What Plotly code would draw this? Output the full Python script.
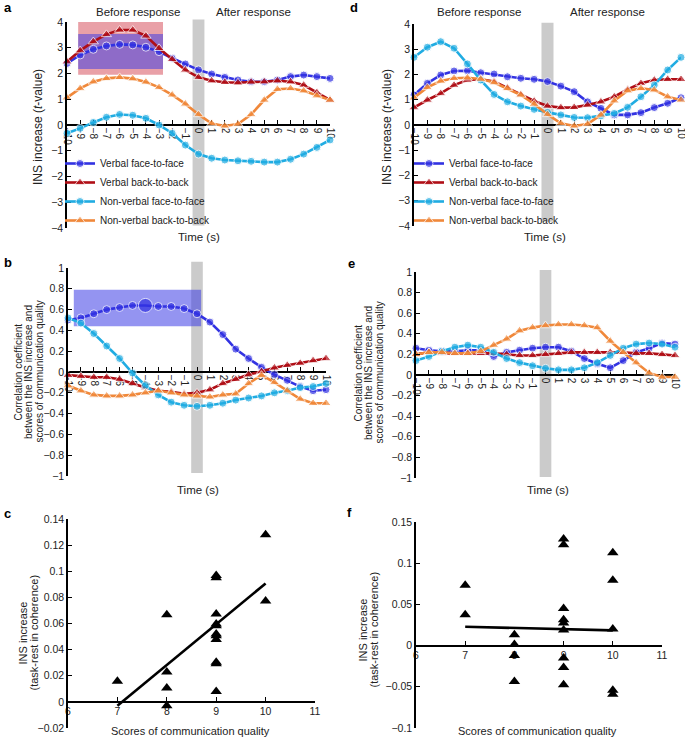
import plotly.graph_objects as go

W, H = 685, 739
FONT = "Liberation Sans, Arial, Helvetica, sans-serif"

time = list(range(-10, 11))
series_names = ["Verbal face-to-face", "Verbal back-to-back",
                "Non-verbal face-to-face", "Non-verbal back-to-back"]

# Panel a: INS increase (t-value)
a_verbal_f2f = [2.39, 2.72, 2.94, 3.07, 3.13, 3.11, 3.02, 2.85, 2.59, 2.37, 2.14,
                1.98, 1.85, 1.75, 1.68, 1.68, 1.75, 1.88, 1.94, 1.88, 1.81]
a_verbal_b2b = [2.46, 2.89, 3.24, 3.52, 3.69, 3.69, 3.46, 2.98, 2.55, 2.14, 1.85,
                1.72, 1.66, 1.64, 1.67, 1.68, 1.72, 1.68, 1.55, 1.26, 0.97]
a_nonverbal_f2f = [-0.32, -0.13, 0.10, 0.30, 0.41, 0.38, 0.26, 0.0, -0.32, -0.78, -1.13,
                   -1.29, -1.36, -1.39, -1.41, -1.44, -1.44, -1.33, -1.13, -0.87, -0.58]
a_nonverbal_b2b = [1.06, 1.42, 1.68, 1.81, 1.85, 1.80, 1.67, 1.46, 1.17, 0.82, 0.41,
                   0.06, -0.04, 0.04, 0.41, 0.97, 1.39, 1.42, 1.33, 1.14, 0.97]

# Panel d
d_verbal_f2f = [1.19, 1.65, 1.98, 2.14, 2.15, 2.07, 2.02, 1.91, 1.85, 1.81, 1.72,
                1.54, 1.32, 0.92, 0.66, 0.40, 0.40, 0.49, 0.69, 0.86, 1.08]
d_verbal_b2b = [0.69, 0.99, 1.25, 1.58, 1.78, 1.81, 1.72, 1.48, 1.21, 0.95, 0.75,
                0.69, 0.70, 0.79, 0.92, 1.12, 1.41, 1.65, 1.78, 1.81, 1.81]
d_nonverbal_f2f = [2.68, 3.08, 3.30, 3.04, 2.42, 1.78, 1.21, 0.92, 0.75, 0.62, 0.50,
                   0.40, 0.30, 0.29, 0.36, 0.46, 0.70, 1.12, 1.58, 2.18, 2.68]
d_nonverbal_b2b = [1.08, 1.49, 1.74, 1.85, 1.87, 1.82, 1.68, 1.45, 1.19, 0.83, 0.42,
                   0.07, -0.04, 0.04, 0.40, 0.96, 1.36, 1.45, 1.39, 1.12, 0.99]

# Panel b: correlation coefficients
b_verbal_f2f = [0.50, 0.52, 0.56, 0.60, 0.62, 0.64, 0.64, 0.63, 0.63, 0.61, 0.56,
                0.48, 0.36, 0.22, 0.13, 0.045, -0.025, -0.08, -0.14, -0.18, -0.17]
b_verbal_b2b = [-0.03, -0.04, -0.05, -0.05, -0.07, -0.11, -0.15, -0.18, -0.19, -0.21, -0.20,
                -0.17, -0.11, -0.07, -0.025, 0.005, 0.04, 0.065, 0.085, 0.11, 0.13]
b_nonverbal_f2f = [0.52, 0.47, 0.37, 0.25, 0.13, -0.01, -0.13, -0.22, -0.29, -0.32, -0.33,
                   -0.32, -0.30, -0.27, -0.25, -0.23, -0.20, -0.18, -0.15, -0.14, -0.11]
b_nonverbal_b2b = [-0.13, -0.18, -0.22, -0.23, -0.23, -0.22, -0.20, -0.18, -0.20, -0.22, -0.23,
                   -0.24, -0.22, -0.21, -0.11, -0.03, -0.10, -0.18, -0.26, -0.30, -0.30]
b_peak_time = -4

# Panel e
e_verbal_f2f = [0.26, 0.24, 0.23, 0.23, 0.24, 0.24, 0.18, 0.22, 0.24, 0.26, 0.27,
                0.27, 0.23, 0.16, 0.11, 0.07, 0.14, 0.22, 0.26, 0.31, 0.30]
e_verbal_b2b = [0.20, 0.22, 0.21, 0.21, 0.21, 0.21, 0.21, 0.20, 0.19, 0.19, 0.20,
                0.21, 0.22, 0.22, 0.22, 0.22, 0.22, 0.21, 0.21, 0.20, 0.19]
e_nonverbal_f2f = [0.14, 0.18, 0.23, 0.27, 0.29, 0.27, 0.22, 0.16, 0.12, 0.09, 0.065,
                   0.05, 0.05, 0.07, 0.12, 0.19, 0.26, 0.30, 0.31, 0.30, 0.27]
e_nonverbal_b2b = [0.20, 0.22, 0.22, 0.21, 0.21, 0.23, 0.29, 0.35, 0.43, 0.46, 0.48,
                   0.49, 0.49, 0.48, 0.46, 0.33, 0.22, 0.12, 0.02, -0.02, -0.02]

# Panel c scatter
c_scores = [7, 8, 8, 8, 8, 9, 9, 9, 9, 9, 9, 9, 9, 9, 9, 9, 10, 10]
c_ins = [0.0157, 0.0667, 0.0228, 0.0106, -0.003, 0.0968, 0.095, 0.0672, 0.0596, 0.0583,
         0.052, 0.0507, 0.0477, 0.0304, 0.0292, 0.008, 0.128, 0.0773]
c_fit_x = [7, 10]
c_fit_y = [-0.003, 0.0907]

# Panel f scatter
f_scores = [7, 7, 8, 8, 8, 8, 9, 9, 9, 9, 9, 9, 9, 9, 9, 10, 10, 10, 10, 10]
f_ins = [0.0732, 0.0374, 0.0133, 0.0012, -0.012, -0.0435, 0.1295, 0.1223, 0.045, 0.0314,
         0.0274, 0.0189, -0.0149, -0.0265, -0.0475, 0.1127, 0.0793, 0.0201, -0.0543, -0.0591]
f_fit_x = [7, 10]
f_fit_y = [0.0229, 0.0185]

BLUE = "rgb(50,50,226)"
RED = "rgb(176,14,22)"
CYAN = "rgb(32,172,226)"
ORANGE = "rgb(240,136,58)"
colors = [BLUE, RED, CYAN, ORANGE]
symbols = ["circle", "triangle-up", "circle", "triangle-up"]


def dx(l, r):
    return [l / W, r / W]


def dy(t, b):
    return [1 - b / H, 1 - t / H]


def val_to_paper(dom, rng, v):
    return dom[0] + (v - rng[0]) / (rng[1] - rng[0]) * (dom[1] - dom[0])


panels = {
    "a": dict(ax="", xdom=dx(67, 330), ydom=dy(22, 228), xr=[-10, 10], yr=[-4, 4], ydt=1, xdt=1),
    "b": dict(ax="2", xdom=dx(68, 326), ydom=dy(268, 476), xr=[-10, 10], yr=[-1, 1], ydt=0.2, xdt=1),
    "c": dict(ax="3", xdom=dx(68, 315), ydom=dy(519, 728), xr=[6, 11], yr=[-0.02, 0.14], ydt=0.02, xdt=1),
    "d": dict(ax="4", xdom=dx(414, 681), ydom=dy(24, 226), xr=[-10, 10], yr=[-4, 4], ydt=1, xdt=1),
    "e": dict(ax="5", xdom=dx(416, 675), ydom=dy(272, 478), xr=[-10, 10], yr=[-1, 1], ydt=0.2, xdt=1),
    "f": dict(ax="6", xdom=dx(416, 662), ydom=dy(522, 728), xr=[6, 11], yr=[-0.1, 0.15], ydt=0.05, xdt=1),
}

title_t = ["INS increase (<i>t</i>-value)"]
title_corr = ["Correlation coefficient", "between the INS increase and",
              "scores of communication quality"]
title_ins = ["INS increase", "(task-rest in coherence)"]
# (lines, x centres of each line in px, y centre in px, font size)
ytitle_spec = {
    "a": (title_t, [38], 127, 12),
    "d": (title_t, [387], 127, 12),
    "b": (title_corr, [17.5, 28, 38.5], 372, 10),
    "e": (title_corr, [357.5, 368, 378.5], 373, 10),
    "c": (title_ins, [22.5, 33.5], 633, 11),
    "f": (title_ins, [362.5, 373.5], 630, 11),
}

fig = go.Figure()

time_data = {
    "a": [a_verbal_f2f, a_verbal_b2b, a_nonverbal_f2f, a_nonverbal_b2b],
    "d": [d_verbal_f2f, d_verbal_b2b, d_nonverbal_f2f, d_nonverbal_b2b],
    "b": [b_verbal_f2f, b_verbal_b2b, b_nonverbal_f2f, b_nonverbal_b2b],
    "e": [e_verbal_f2f, e_verbal_b2b, e_nonverbal_f2f, e_nonverbal_b2b],
}
legend_of = {"a": "legend", "d": "legend2"}

for key in ["a", "b", "d", "e"]:
    p = panels[key]
    for i, vals in enumerate(time_data[key]):
        size = 8 if symbols[i] == "circle" else 9
        sizes = [size] * len(time)
        if key == "b" and i == 0:
            sizes = [14 if t == b_peak_time else size for t in time]
        fig.add_trace(go.Scatter(
            x=time, y=vals, mode="lines+markers", name=series_names[i],
            line=dict(color=colors[i], width=2.6),
            marker=dict(color=colors[i], symbol=symbols[i], size=sizes),
            xaxis="x" + p["ax"], yaxis="y" + p["ax"], cliponaxis=False,
            showlegend=key in legend_of, legend=legend_of.get(key, "legend"),
        ))

for key, xs, ys, fx, fy in [("c", c_scores, c_ins, c_fit_x, c_fit_y),
                            ("f", f_scores, f_ins, f_fit_x, f_fit_y)]:
    p = panels[key]
    fig.add_trace(go.Scatter(x=fx, y=fy, mode="lines", line=dict(color="black", width=2.6),
                             xaxis="x" + p["ax"], yaxis="y" + p["ax"], showlegend=False, cliponaxis=False))
    fig.add_trace(go.Scatter(x=xs, y=ys, mode="markers",
                             marker=dict(color="black", symbol="triangle-up", size=10),
                             xaxis="x" + p["ax"], yaxis="y" + p["ax"], showlegend=False, cliponaxis=False))

layout = dict(
    width=W, height=H, margin=dict(l=0, r=0, t=0, b=0, autoexpand=False),
    paper_bgcolor="white", plot_bgcolor="rgba(0,0,0,0)",
    font=dict(family=FONT, size=10, color="#222"),
    showlegend=True,
)

for key, p in panels.items():
    xa = "xaxis" + p["ax"]
    ya = "yaxis" + p["ax"]
    layout[xa] = dict(
        domain=p["xdom"], range=p["xr"], anchor="free",
        position=val_to_paper(p["ydom"], p["yr"], 0), automargin=False,
        dtick=p["xdt"], tick0=0, showgrid=False, zeroline=False,
        showline=True, linecolor="black", linewidth=1.5,
        ticks="inside", ticklen=4, tickcolor="black", tickwidth=1,
        tickangle=90 if key in "abde" else 0, ticklabeloverflow="allow",
        tickfont=dict(size=10 if key in "abde" else 10.5, color="#222"), layer="below traces",
    )
    layout[ya] = dict(
        domain=p["ydom"], range=p["yr"], anchor="x" + p["ax"], automargin=False,
        dtick=p["ydt"], tick0=0, showgrid=False, zeroline=False,
        showline=True, linecolor="black", linewidth=1.5,
        ticks="inside", ticklen=4, tickcolor="black", tickwidth=1,
        tickfont=dict(size=10.5, color="#222"),
    )

layout["legend"] = dict(x=60 / W, y=1 - 149 / H, xanchor="left", yanchor="top",
                        bgcolor="rgba(0,0,0,0)", font=dict(size=10, color="#222"),
                        itemwidth=30, tracegroupgap=0)
layout["legend2"] = dict(x=409 / W, y=1 - 149 / H, xanchor="left", yanchor="top",
                         bgcolor="rgba(0,0,0,0)", font=dict(size=10, color="#222"),
                         itemwidth=30, tracegroupgap=0)

shapes = []
GRAY = "#cbcbcb"
# response bar (-0.45 s .. 0.45 s), vertical extent in axis units (may exceed the axis range)
for key, ylo, yhi in [("a", -3.9, 4.1), ("d", -3.83, 4.05), ("b", -0.97, 1.06), ("e", -0.99, 1.02)]:
    p = panels[key]
    shapes.append(dict(type="rect", xref="x" + p["ax"], yref="paper", x0=-0.45, x1=0.45,
                       y0=val_to_paper(p["ydom"], p["yr"], ylo),
                       y1=val_to_paper(p["ydom"], p["yr"], yhi),
                       fillcolor=GRAY, line=dict(width=0), layer="below"))
shapes.append(dict(type="rect", xref="x", yref="y", x0=-9.15, x1=-2.7, y0=1.95, y1=4.0,
                   fillcolor="rgba(212,66,80,0.5)", line=dict(width=0), layer="below"))
shapes.append(dict(type="rect", xref="x", yref="y", x0=-9.15, x1=-2.7, y0=2.17, y1=3.53,
                   fillcolor="rgba(60,60,230,0.52)", line=dict(width=0), layer="below"))
shapes.append(dict(type="rect", xref="x2", yref="y2", x0=-9.55, x1=0.32, y0=0.44, y1=0.79,
                   fillcolor="rgba(60,60,230,0.55)", line=dict(width=0), layer="below"))
layout["shapes"] = shapes


def ann(text, x, y, size=12, bold=False, xanchor="center", angle=0):
    return dict(text=f"<b>{text}</b>" if bold else text, x=x / W, y=1 - y / H,
                xref="paper", yref="paper", showarrow=False, xanchor=xanchor, yanchor="middle",
                textangle=angle,
                font=dict(size=size, color="#222" if not bold else "black", family=FONT))


annotations = [
    ann("a", 2, 8, 13, True, "left"), ann("b", 2, 262, 13, True, "left"),
    ann("c", 2, 513, 13, True, "left"), ann("d", 348, 8, 13, True, "left"),
    ann("e", 346, 263, 13, True, "left"), ann("f", 345, 512, 13, True, "left"),
    ann("Before response", 138, 12, 11.5), ann("After response", 253, 12, 11.5),
    ann("Before response", 479, 12, 11.5), ann("After response", 607, 12, 11.5),
    ann("Time (s)", 199, 237, 11.5), ann("Time (s)", 198, 490, 11.5),
    ann("Time (s)", 545, 237, 11.5), ann("Time (s)", 548, 490, 11.5),
    ann("Scores of communication quality", 190, 731, 11),
    ann("Scores of communication quality", 537, 731, 11),
]
for key, (lines, xs, yc, fs) in ytitle_spec.items():
    for line, xc in zip(lines, xs):
        annotations.append(dict(text=line, x=xc / W, y=1 - yc / H, xref="paper", yref="paper",
                                showarrow=False, xanchor="center", yanchor="middle",
                                textangle=-90, borderpad=0,
                                font=dict(size=fs, color="#222", family=FONT)))
layout["annotations"] = annotations

fig.update_layout(**layout)
fig.write_html("out.html", config={"displayModeBar": False},
               post_script="document.body.style.margin='0px';")
